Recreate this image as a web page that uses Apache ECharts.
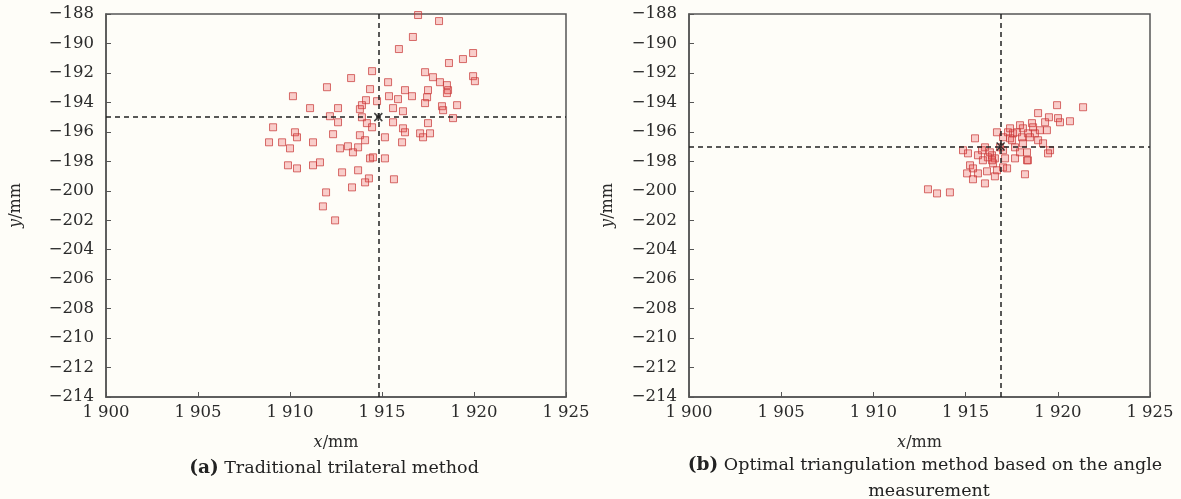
<!DOCTYPE html>
<html>
<head>
<meta charset="utf-8">
<script src="https://cdn.jsdelivr.net/npm/echarts@6/dist/echarts.min.js"></script>
<style>
    html, body { margin: 0; padding: 0; background: #fefdf8; }
    #chart { width: 1181px; height: 499px; }
</style>
</head>
<body>
<div id="chart"></div>
<script>
// (a) traditional trilateral method
const leftX = [1916.96, 1918.10, 1916.68, 1915.92, 1919.95, 1919.40, 1918.64, 1914.46, 1917.34, 1919.95,
    1920.05, 1913.32, 1917.77, 1915.33, 1912.01, 1918.15, 1918.53, 1918.59, 1914.35, 1916.25,
    1916.63, 1910.16, 1917.50, 1915.38, 1915.87, 1917.45, 1917.34, 1918.53, 1919.08, 1914.13,
    1913.91, 1913.80, 1914.73, 1911.09, 1912.61, 1915.60, 1916.14, 1918.26, 1918.32, 1918.86,
    1912.17, 1912.61, 1913.91, 1914.18, 1914.46, 1915.60, 1916.14, 1916.25, 1917.50, 1917.07,
    1917.61, 1917.23, 1910.27, 1910.38, 1912.34, 1911.25, 1913.80, 1914.08, 1915.16, 1916.09,
    1912.72, 1913.15, 1913.70, 1913.42, 1914.35, 1914.51, 1915.16, 1910.00, 1910.38, 1911.25,
    1911.63, 1912.83, 1913.70, 1914.29, 1914.08, 1915.65, 1913.37, 1911.96, 1911.79, 1912.45,
    1909.08, 1908.86, 1909.57, 1909.89];
const leftY = [-188.07, -188.48, -189.56, -190.38, -190.65, -191.06, -191.33, -191.88, -191.95, -192.22,
    -192.56, -192.35, -192.29, -192.63, -192.97, -192.63, -192.83, -193.17, -193.10, -193.17,
    -193.58, -193.58, -193.17, -193.58, -193.78, -193.65, -194.05, -193.37, -194.19, -193.85,
    -194.19, -194.46, -193.92, -194.39, -194.39, -194.39, -194.60, -194.26, -194.53, -195.07,
    -194.94, -195.35, -195.01, -195.41, -195.69, -195.35, -195.76, -196.03, -195.41, -196.10,
    -196.10, -196.37, -196.03, -196.37, -196.16, -196.71, -196.23, -196.57, -196.37, -196.71,
    -197.12, -196.98, -197.05, -197.39, -197.80, -197.73, -197.80, -197.12, -198.48, -198.27,
    -198.07, -198.75, -198.61, -199.16, -199.43, -199.22, -199.77, -200.11, -201.06, -202.01,
    -195.69, -196.71, -196.71, -198.27];
const leftCenter = [1914.8, -195.0];

// (b) optimal triangulation method based on the angle measurement
const rightX = [1919.96, 1921.37, 1918.93, 1919.52, 1920.01, 1920.12, 1920.66, 1918.60, 1918.66, 1918.11,
    1917.57, 1917.30, 1917.79, 1919.41, 1918.38, 1918.76, 1918.93, 1919.20, 1919.58, 1919.47,
    1916.70, 1917.03, 1917.41, 1916.87, 1917.03, 1917.68, 1918.11, 1917.95, 1918.33, 1916.43,
    1916.59, 1916.49, 1917.14, 1917.68, 1918.33, 1917.03, 1916.70, 1918.22, 1912.96, 1913.45,
    1914.15, 1915.51, 1914.86, 1915.13, 1916.05, 1916.32, 1916.21, 1915.94, 1916.43, 1915.24,
    1915.40, 1915.08, 1915.67, 1916.16, 1915.40, 1916.05, 1918.38, 1916.59, 1917.25, 1915.89,
    1915.67, 1917.41, 1917.95, 1918.49, 1917.52, 1918.06, 1919.03, 1919.31];
const rightY = [-194.19, -194.33, -194.73, -195.01, -195.07, -195.35, -195.28, -195.41, -195.69, -195.76,
    -196.10, -196.03, -196.03, -195.89, -196.10, -196.10, -196.57, -196.78, -197.25, -197.46,
    -196.03, -196.37, -196.44, -197.05, -197.25, -197.05, -196.78, -197.39, -197.39, -197.59,
    -197.80, -198.14, -197.80, -197.80, -197.93, -198.41, -198.61, -198.88, -199.90, -200.18,
    -200.11, -196.44, -197.25, -197.46, -197.05, -197.39, -197.73, -197.93, -197.93, -198.27,
    -198.48, -198.82, -198.82, -198.68, -199.22, -199.50, -197.93, -199.02, -198.48, -197.25,
    -197.59, -195.76, -195.55, -196.37, -196.57, -196.37, -195.89, -195.35];
const rightCenter = [1916.9, -197.0];

const xMin = 1900, xMax = 1925, xStep = 5;
const yMin = -214, yMax = -188, yStep = 2;

const FONT = 'DejaVu Serif';
const TICK_SIZE = 16.5;

function pairs(xs, ys) {
    return xs.map((x, i) => [x, ys[i]]);
}

function makeX(idx) {
    return {
        gridIndex: idx,
        type: 'value',
        min: xMin,
        max: xMax,
        interval: xStep,
        name: '{i|x}/mm',
        nameLocation: 'middle',
        nameGap: 38,
        nameTextStyle: {
            fontFamily: FONT, fontSize: 16, color: '#2a2a2a',
            rich: { i: { fontFamily: FONT, fontStyle: 'italic', fontSize: 16, color: '#2a2a2a' } }
        },
        axisLine: { show: true, lineStyle: { color: '#555', width: 1.5 } },
        axisTick: { show: true, inside: true, length: 5, lineStyle: { color: '#555' } },
        axisLabel: {
            margin: 7, fontFamily: FONT, fontSize: TICK_SIZE, color: '#2a2a2a',
            formatter: v => String(v).replace(/^(\d)(\d{3})$/, '$1 $2')
        },
        splitLine: { show: false }
    };
}

function makeY(idx, gap) {
    return {
        gridIndex: idx,
        type: 'value',
        min: yMin,
        max: yMax,
        interval: yStep,
        name: '{i|y}/mm',
        nameLocation: 'middle',
        nameGap: gap,
        nameRotate: 90,
        nameTextStyle: {
            fontFamily: FONT, fontSize: 16, color: '#2a2a2a',
            rich: { i: { fontFamily: FONT, fontStyle: 'italic', fontSize: 16, color: '#2a2a2a' } }
        },
        axisLine: { show: true, lineStyle: { color: '#555', width: 1.5 } },
        axisTick: { show: true, inside: true, length: 5, lineStyle: { color: '#555' } },
        axisLabel: {
            margin: 12, fontFamily: FONT, fontSize: TICK_SIZE, color: '#2a2a2a',
            formatter: v => '\u2212' + Math.abs(v)
        },
        splitLine: { show: false }
    };
}

function pointSeries(idx, xs, ys) {
    return {
        type: 'scatter',
        xAxisIndex: idx,
        yAxisIndex: idx,
        symbol: 'rect',
        symbolSize: 7,
        itemStyle: {
            color: 'rgba(235, 70, 70, 0.32)',
            borderColor: 'rgba(200, 55, 55, 0.9)',
            borderWidth: 1
        },
        data: pairs(xs, ys),
        z: 3
    };
}

function centerSeries(idx, c) {
    return {
        type: 'scatter',
        xAxisIndex: idx,
        yAxisIndex: idx,
        symbol: 'path://M0,0 L10,10 M10,0 L0,10 M5,0 L5,10',
        symbolSize: 8,
        itemStyle: { color: 'none', borderColor: '#111', borderWidth: 1.5 },
        data: [c],
        z: 4,
        markLine: {
            silent: true,
            symbol: 'none',
            label: { show: false },
            lineStyle: { color: '#222', type: [5, 4], width: 1.5 },
            data: [{ xAxis: c[0] }, { yAxis: c[1] }]
        }
    };
}

const chart = echarts.init(document.getElementById('chart'));
chart.setOption({
    backgroundColor: '#fefdf8',
    animation: false,
    grid: [
        { left: 106, top: 14, width: 460, height: 383, show: true, borderColor: '#555', borderWidth: 1.5, backgroundColor: 'transparent' },
        { left: 689, top: 14, width: 461, height: 383, show: true, borderColor: '#555', borderWidth: 1.5, backgroundColor: 'transparent' }
    ],
    xAxis: [makeX(0), makeX(1)],
    yAxis: [makeY(0, 82), makeY(1, 73)],
    title: [
        {
            text: '{b|(a)} Traditional trilateral method',
            left: 329, top: 454, textAlign: 'center',
            textStyle: {
                fontFamily: FONT, fontSize: 17.5, fontWeight: 'normal', color: '#222',
                rich: { b: { fontFamily: FONT, fontSize: 18.5, fontWeight: 'bold', color: '#222' } }
            }
        },
        {
            text: '{b|(b)} Optimal triangulation method based on the angle',
            left: 920, top: 451, textAlign: 'center',
            textStyle: {
                fontFamily: FONT, fontSize: 17.5, fontWeight: 'normal', color: '#222',
                rich: { b: { fontFamily: FONT, fontSize: 18.5, fontWeight: 'bold', color: '#222' } }
            }
        },
        {
            text: 'measurement',
            left: 924, top: 477, textAlign: 'center',
            textStyle: { fontFamily: FONT, fontSize: 17.5, fontWeight: 'normal', color: '#222' }
        }
    ],
    series: [
        pointSeries(0, leftX, leftY),
        centerSeries(0, leftCenter),
        pointSeries(1, rightX, rightY),
        centerSeries(1, rightCenter)
    ]
});
</script>
</body>
</html>
